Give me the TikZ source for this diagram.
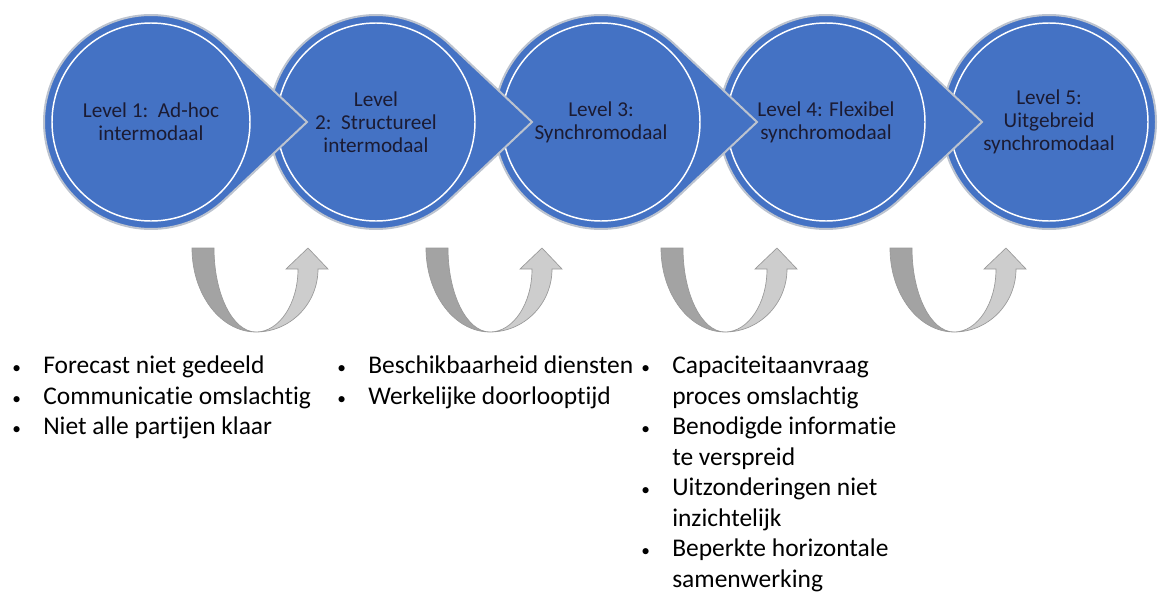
\documentclass[tikz,border=0pt]{standalone}
\usepackage{fontspec}
\setmainfont{Carlito}[Ligatures=CommonOff]
\usepackage{tikz}
\usetikzlibrary{calc}
\definecolor{levelblue}{HTML}{4472C4}
\definecolor{leveltext}{HTML}{1B1B33}
\definecolor{halo}{HTML}{BCC3CF}
\definecolor{backgray}{HTML}{A3A3A3}
\definecolor{frontgray}{HTML}{CDCDCD}
\definecolor{edgegray}{HTML}{999999}
\newcommand{\teardrop}[1]
{
	\filldraw[levelshape] (#1) ++(46.2:107) arc[start angle=46.2, end angle=313.8, radius=107] -- ($(#1)+(156,0)$) -- cycle;
	\draw[levelring] (#1) circle[radius=99];
}
\newcommand{\curvedup}[1]
{
	\begin{scope}[shift={(#1)}]
	\filldraw[backband] (0,0) arc[start angle=180, end angle=270, x radius=64, y radius=84] arc[start angle=270, end angle=180, x radius=42, y radius=84] -- cycle;
	\filldraw[frontband] (64,-84) arc[start angle=270, end angle=360, x radius=62, y radius=63] -- (136,-21) -- (116,0) -- (94,-21) -- (106,-21) arc[start angle=0, end angle=-90, x radius=42, y radius=63] -- cycle;
	\end{scope}
}
\newcommand{\dotitem}{{\fontsize{13}{13}\selectfont\textbullet}}

\begin{document}
\begin{tikzpicture}[x=0.75pt, y=0.75pt,
levelshape/.style={fill=levelblue, draw=halo, line width=1.5pt},
levelring/.style={draw=white, line width=1.1pt},
leveltxt/.style={align=center, text=leveltext, font=\fontsize{15.9}{17.25}\selectfont},
backband/.style={fill=backgray, draw=edgegray, line width=0.5pt},
frontband/.style={fill=frontgray, draw=edgegray, line width=0.5pt},
problist/.style={anchor=north west, inner sep=0pt, font=\fontsize{19.1}{22.9}\selectfont}]
\useasboundingbox (0,0) rectangle (1160,-596);

\coordinate (C1) at (151,-122);
\coordinate (C2) at (376,-122);
\coordinate (C3) at (601,-122);
\coordinate (C4) at (826,-122);
\coordinate (C5) at (1049,-122);

% circles, right to left so each point lies on top
\filldraw[levelshape] (C5) circle[radius=107];
\draw[levelring] (C5) circle[radius=99];
\teardrop{C4}
\teardrop{C3}
\teardrop{C2}
\teardrop{C1}

\node[leveltxt] (L1) at (C1) {Level 1:\ \ Ad-hoc\\intermodaal};
\node[leveltxt] (L2) at (C2) {Level\\2:\ \ Structureel\\intermodaal};
\node[leveltxt] (L3) at (C3) {Level 3:\\Synchromodaal};
\node[leveltxt] (L4) at (C4) {Level 4: Flexibel\\synchromodaal};
\node[leveltxt] (L5) at (C5) {Level 5:\\Uitgebreid\\synchromodaal};

\coordinate (U1) at (192,-248);
\coordinate (U2) at (426,-248);
\coordinate (U3) at (661,-248);
\coordinate (U4) at (890,-248);
\curvedup{U1}
\curvedup{U2}
\curvedup{U3}
\curvedup{U4}

\node[problist] (P1) at (12,-352) {\begin{tabular}{@{}p{23.25pt}@{}l@{}}
\dotitem & Forecast niet gedeeld\\
\dotitem & Communicatie omslachtig\\
\dotitem & Niet alle partijen klaar
\end{tabular}};
\node[problist] (P2) at (337,-352) {\begin{tabular}{@{}p{23.25pt}@{}l@{}}
\dotitem & Beschikbaarheid diensten\\
\dotitem & Werkelijke doorlooptijd
\end{tabular}};
\node[problist] (P3) at (641,-352) {\begin{tabular}{@{}p{23.25pt}@{}l@{}}
\dotitem & Capaciteitaanvraag\\
 & proces omslachtig\\
\dotitem & Benodigde informatie\\
 & te verspreid\\
\dotitem & Uitzonderingen niet\\
 & inzichtelijk\\
\dotitem & Beperkte horizontale\\
 & samenwerking
\end{tabular}};
\end{tikzpicture}
\end{document}
